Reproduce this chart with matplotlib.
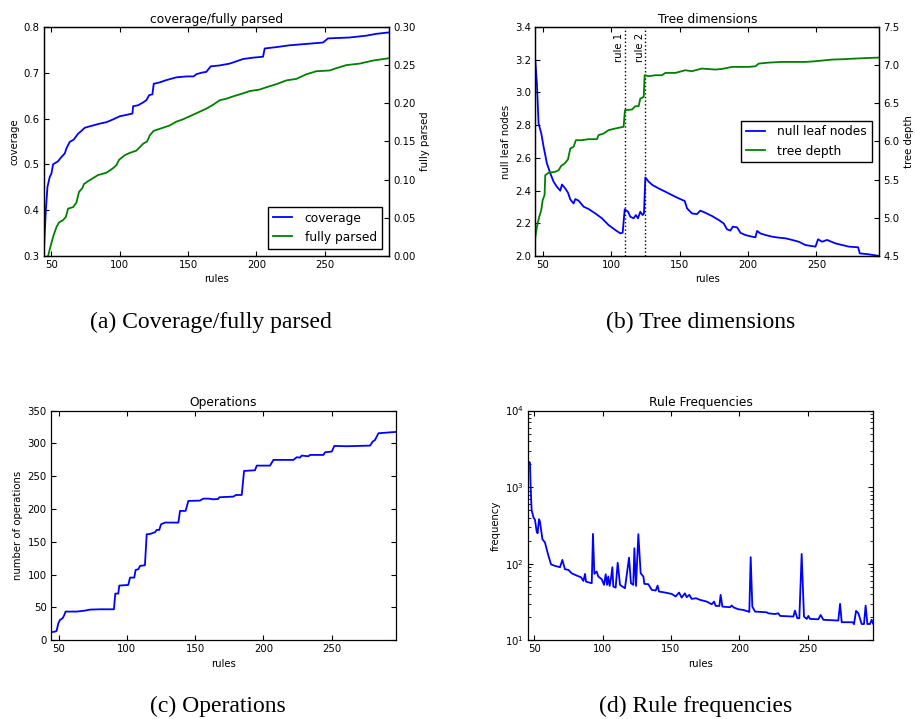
import numpy as np
import matplotlib
matplotlib.use("Agg")
import matplotlib.pyplot as plt
import matplotlib.transforms as mtransforms

# ---- data ----
# (a) coverage / fully parsed
cov_rules = [44.6, 45.9, 47.1, 48.8, 50, 51.2, 54.9, 57.3, 59.8, 61, 63.4, 66.3, 69.5, 71.9, 74.4,
             78, 85.4, 90.2, 95, 100, 104.9, 109.3, 109.8, 113.4, 117, 119.5, 121.5, 123.9, 124.9,
             129.3, 134.1, 141.5, 148.8, 154.1, 156.1, 159.8, 163.4, 166.6, 173.2, 180.5, 185.4,
             190.2, 197.6, 204.9, 206.1, 214.6, 224.4, 236.6, 248.8, 252.4, 268.3, 280.5, 287.8, 296.8]
coverage = [0.32, 0.40, 0.451, 0.473, 0.48, 0.50, 0.507, 0.516, 0.524, 0.535, 0.549, 0.554, 0.567,
            0.573, 0.58, 0.583, 0.589, 0.592, 0.598, 0.605, 0.608, 0.611, 0.627, 0.629, 0.635, 0.64,
            0.651, 0.653, 0.676, 0.679, 0.684, 0.69, 0.692, 0.692, 0.697, 0.70, 0.702, 0.714, 0.716,
            0.72, 0.725, 0.73, 0.733, 0.735, 0.753, 0.756, 0.76, 0.763, 0.766, 0.775, 0.777, 0.781,
            0.785, 0.788]

fp_rules = [44.6, 47.6, 48.8, 51.2, 53.7, 55.6, 58.5, 60.5, 62.2, 65.9, 68.3, 70.2, 72.7, 73.7, 76.8,
            80.5, 84.1, 90.2, 95.1, 97.6, 99.5, 103.7, 107.3, 112.2, 117.1, 120, 122, 124.9, 131.7,
            136.6, 141.5, 146.3, 151.2, 156.1, 159.8, 163.4, 168.3, 173.2, 178, 182.9, 190.2, 195.1,
            202.4, 207.3, 214.6, 222, 229.3, 236.6, 243.9, 253.7, 258.5, 265.9, 275.6, 285.4, 296.8]
fully_parsed = [-0.004, 0.0, 0.009, 0.025, 0.038, 0.044, 0.047, 0.051, 0.062, 0.064, 0.07, 0.084,
                0.089, 0.094, 0.098, 0.102, 0.106, 0.109, 0.115, 0.119, 0.126, 0.132, 0.135, 0.138,
                0.147, 0.15, 0.158, 0.164, 0.168, 0.171, 0.176, 0.179, 0.183, 0.187, 0.19, 0.193,
                0.198, 0.204, 0.206, 0.209, 0.213, 0.216, 0.218, 0.221, 0.225, 0.23, 0.232, 0.238,
                0.242, 0.243, 0.246, 0.25, 0.252, 0.256, 0.259]

# (b) tree dimensions
null_rules = [44.4, 45.6, 46.8, 48.8, 50.5, 52.9, 55.4, 57.8, 60.2, 62.7, 63.9, 66.3, 68.3, 70, 72.4,
              73.7, 76.1, 79.8, 83.4, 88.3, 93.2, 98, 102.9, 106.6, 108.3, 109.8, 112.2, 113.9,
              116.3, 118, 119.5, 121.2, 122.9, 123.9, 124.9, 127.3, 130.2, 134.6, 139.5, 144.4,
              149.3, 153.7, 155.4, 159, 162.7, 165.1, 168.8, 173.7, 178.5, 182.2, 184.6, 187.1,
              188.8, 192, 194.4, 198, 202.9, 205.4, 206.6, 209, 212.7, 217.6, 222.4, 227.3, 232.2,
              237.1, 241.9, 249.3, 251.2, 254.1, 257.8, 263.9, 268.8, 273.7, 280.5, 281.7, 288.3, 296.1]
null_leaf = [3.196, 3.054, 2.81, 2.749, 2.667, 2.566, 2.505, 2.454, 2.423, 2.399, 2.437, 2.413, 2.387,
             2.346, 2.321, 2.348, 2.338, 2.301, 2.287, 2.26, 2.23, 2.189, 2.159, 2.138, 2.142, 2.285,
             2.271, 2.24, 2.23, 2.25, 2.23, 2.27, 2.25, 2.26, 2.48, 2.454, 2.433, 2.413, 2.393, 2.372,
             2.352, 2.336, 2.291, 2.26, 2.256, 2.277, 2.264, 2.244, 2.22, 2.199, 2.163, 2.155, 2.179,
             2.175, 2.142, 2.128, 2.118, 2.114, 2.153, 2.138, 2.128, 2.118, 2.112, 2.108, 2.098,
             2.087, 2.067, 2.057, 2.102, 2.087, 2.098, 2.077, 2.067, 2.057, 2.053, 2.016, 2.01, 2.0]

depth_rules = [44.4, 45.6, 47.3, 48.8, 49.8, 51.2, 51.7, 54.1, 59, 61.5, 63.4, 65.9, 68.3, 70, 72.4,
               74.1, 78.5, 83.4, 89.5, 90.7, 94.4, 98, 102.9, 109, 110, 115.1, 117.6, 120, 121.2,
               123.7, 124.4, 127.3, 132.2, 137.1, 139.5, 146.8, 154.1, 159, 161.5, 166.3, 176.1,
               181, 188.3, 195.6, 200.5, 205.4, 207.8, 215.1, 224.9, 242, 249.3, 256.6, 261.5,
               268.8, 278.5, 288.3, 296.1]
tree_depth = [4.744, 4.883, 5.014, 5.101, 5.232, 5.298, 5.559, 5.59, 5.603, 5.625, 5.681, 5.712,
              5.764, 5.908, 5.93, 6.017, 6.017, 6.03, 6.03, 6.083, 6.104, 6.148, 6.17, 6.192, 6.41,
              6.418, 6.462, 6.462, 6.562, 6.584, 6.868, 6.855, 6.868, 6.868, 6.898, 6.898, 6.933,
              6.92, 6.933, 6.955, 6.942, 6.95, 6.977, 6.977, 6.977, 6.985, 7.02, 7.033, 7.042,
              7.042, 7.051, 7.064, 7.073, 7.077, 7.086, 7.094, 7.099]
rule_marks = [110, 125]
rule_names = ["rule 1", "rule 2"]

# (c) operations
ops_rules = [44.4, 47.3, 48.5, 49.8, 51, 52.9, 54.2, 55.1, 63.2, 69.3, 73, 80.3, 90.5, 91.5, 93.7,
             94.4, 101, 102.3, 105.4, 106.4, 108.4, 109.6, 113.2, 114.5, 117, 120.6, 121.8, 123.7,
             125, 127.9, 137.7, 138.9, 143, 145, 153.5, 156, 159.6, 163.3, 166.9, 167.7, 178,
             179.9, 184.1, 185.8, 193.8, 195.1, 204.8, 207.3, 221.9, 224.4, 226.8, 228, 232.9,
             234.1, 243.9, 245.1, 250, 251.9, 260.9, 278.1, 280, 281.7, 284.2, 296.9]
operations = [12.2, 13.2, 14.2, 25.9, 31, 33.5, 38.6, 43.7, 43.7, 45.2, 46.7, 47.2, 47.2, 71.1, 71.1,
              83.3, 84.3, 95.5, 95.5, 107.2, 108.2, 113.3, 114.3, 161.5, 162, 164.6, 168.1, 168.1,
              176.7, 179.3, 179.3, 197.1, 197.1, 212.3, 212.8, 215.8, 215.8, 214.8, 215.3, 217.9,
              218.9, 221.4, 221.4, 258, 259, 266.1, 266.1, 274.8, 274.8, 278.9, 278.3, 281.4, 280.3,
              282.4, 282.4, 286.4, 287.5, 296.1, 295.6, 296.6, 302.7, 305.2, 315.4, 317.4]

# (d) rule frequencies
freq_rules = [45.6, 46.8, 47.3, 48, 49.3, 50.5, 51.7, 52.4, 53.4, 54.1, 55.9, 57.8, 59.8, 62.2, 65.1,
              68.8, 70.5, 72.4, 74.9, 77.3, 81, 84.1, 85.9, 87.1, 87.8, 92, 92.9, 93.9, 95.6, 96.8,
              99.3, 101, 102.2, 103.2, 104.1, 105.1, 106.1, 107.1, 107.8, 109.5, 111, 112.7, 116.3,
              119.3, 120.7, 122.4, 123.2, 124.4, 126.1, 127.8, 129.8, 130.5, 133.4, 135.9, 138.8,
              140.2, 141.2, 145.6, 150.5, 153.4, 155.9, 157.8, 160.2, 161.5, 163.4, 165.1, 168.3,
              171.2, 176.1, 179.8, 181.5, 182.7, 185.4, 186.3, 187.6, 193.2, 194.4, 196.1, 199.3,
              202.9, 206.6, 207.3, 208.3, 209.5, 211.5, 220, 221.2, 226.1, 228.5, 229.8, 239.5,
              240.7, 242.4, 243.9, 245.6, 247.3, 249.3, 250.5, 251.7, 257.8, 259.5, 261.5, 272.4,
              273.7, 274.9, 283, 283.9, 285.4, 287.1, 289.5, 291.2, 292.4, 293.7, 295.6, 296.8, 298]
frequency = [2158, 2090, 1016, 505, 405, 373, 263, 250, 381, 355, 209, 189, 137, 98, 93.6, 90, 112,
             84.7, 83, 75, 70, 66.6, 59.6, 73.6, 58.4, 55.6, 245, 73.6, 79, 68, 62.7, 52.9, 72.8,
             52.9, 68, 51.3, 64.6, 90, 50.3, 48.7, 103, 52.9, 47.8, 120, 55.6, 52.9, 159, 51.3, 243,
             75, 68, 54.5, 54, 45.5, 44.6, 51.8, 43.3, 42, 40.3, 37.3, 42, 36.1, 41, 36.5, 39.2,
             34.7, 35.4, 33.7, 32, 29.5, 32, 28.1, 28.1, 39.2, 27.5, 27, 28.4, 26.7, 25.4, 24.9,
             23.7, 23.4, 121.7, 27.5, 23.7, 23.2, 22.5, 22, 22.5, 20.8, 20.4, 24.4, 19.4, 19.4, 134,
             20.4, 19, 20.8, 19, 18.8, 21.4, 18.5, 18.1, 29.9, 17.2, 17.2, 16.2, 24.2, 22.5, 16.3,
             16.3, 28.4, 16.3, 16.3, 18.5, 16.3]

captions = ["(a) Coverage/fully parsed", "(b) Tree dimensions", "(c) Operations", "(d) Rule frequencies"]

# ---- style (old matplotlib look) ----
plt.rcParams["font.family"] = "DejaVu Sans"
plt.rcParams["font.size"] = 7.3
plt.rcParams["xtick.direction"] = "in"
plt.rcParams["ytick.direction"] = "in"
plt.rcParams["xtick.top"] = True
plt.rcParams["ytick.right"] = True
plt.rcParams["xtick.major.size"] = 3.5
plt.rcParams["ytick.major.size"] = 3.5
plt.rcParams["xtick.minor.size"] = 2
plt.rcParams["ytick.minor.size"] = 2
plt.rcParams["xtick.major.pad"] = 3
plt.rcParams["ytick.major.pad"] = 3
plt.rcParams["axes.linewidth"] = 0.9
plt.rcParams["axes.titlesize"] = 8.8
plt.rcParams["axes.titlepad"] = 3
plt.rcParams["axes.labelpad"] = 3
plt.rcParams["legend.fontsize"] = 8.8
plt.rcParams["legend.fancybox"] = False
plt.rcParams["legend.edgecolor"] = "black"
plt.rcParams["legend.framealpha"] = 1
plt.rcParams["mathtext.default"] = "regular"

BLUE = "#0000ff"
GREEN = "#008000"
LW = 1.3

fig = plt.figure(figsize=(9.15, 7.19), dpi=100)

# (a)
ax1 = fig.add_axes([0.048, 0.644, 0.377, 0.3185])
l1, = ax1.plot(cov_rules, coverage, color=BLUE, lw=LW, label="coverage")
ax1.set_xlim(44.5, 297)
ax1.set_ylim(0.3, 0.8)
ax1.set_xticks([50, 100, 150, 200, 250])
ax1.set_xlabel("rules")
ax1.set_ylabel("coverage")
ax1.set_title("coverage/fully parsed")
ax1b = ax1.twinx()
l2, = ax1b.plot(fp_rules, fully_parsed, color=GREEN, lw=LW, label="fully parsed")
ax1b.set_ylim(0.0, 0.30)
ax1b.set_ylabel("fully parsed")
ax1b.legend([l1, l2], ["coverage", "fully parsed"], loc="lower right",
            handlelength=1.6, handletextpad=1.0, borderaxespad=0.6)

# (b)
ax2 = fig.add_axes([0.585, 0.644, 0.376, 0.3185])
m1, = ax2.plot(null_rules, null_leaf, color=BLUE, lw=LW)
ax2.set_xlim(44.4, 296)
ax2.set_ylim(2.0, 3.4)
ax2.set_xticks([50, 100, 150, 200, 250])
ax2.set_xlabel("rules")
ax2.set_ylabel("null leaf nodes")
ax2.set_title("Tree dimensions")
trans = mtransforms.blended_transform_factory(ax2.transData, ax2.transAxes)
for pos, name in zip(rule_marks, rule_names):
    ax2.axvline(pos, color="black", ls=":", lw=1.0)
    ax2.text(pos - 0.6, 0.975, name, transform=trans, rotation=90,
             ha="right", va="top", fontsize=7.3)
ax2b = ax2.twinx()
m2, = ax2b.plot(depth_rules, tree_depth, color=GREEN, lw=LW)
ax2b.set_ylim(4.5, 7.5)
ax2b.set_ylabel("tree depth")
ax2b.legend([m1, m2], ["null leaf nodes", "tree depth"], loc="center right",
            handlelength=1.6, handletextpad=1.0, borderaxespad=0.6)

# (c)
ax3 = fig.add_axes([0.0557, 0.1095, 0.377, 0.3195])
ax3.plot(ops_rules, operations, color=BLUE, lw=LW)
ax3.set_xlim(44.4, 297)
ax3.set_ylim(0, 350)
ax3.set_xticks([50, 100, 150, 200, 250])
ax3.set_xlabel("rules")
ax3.set_ylabel("number of operations")
ax3.set_title("Operations")

# (d)
ax4 = fig.add_axes([0.5774, 0.1095, 0.377, 0.3195])
ax4.plot(freq_rules, frequency, color=BLUE, lw=LW)
ax4.set_yscale("log")
ax4.set_xlim(45.6, 298)
ax4.set_ylim(10, 1e4)
ax4.set_xticks([50, 100, 150, 200, 250])
ax4.set_xlabel("rules")
ax4.set_ylabel("frequency")
ax4.set_title("Rule Frequencies")

# captions
cap_pos = [(0.2306, 0.552), (0.766, 0.552), (0.238, 0.018), (0.7607, 0.018)]
for (cx, cy), txt in zip(cap_pos, captions):
    fig.text(cx, cy, txt, ha="center", va="center", family="Liberation Serif", fontsize=17)

fig.savefig("out.png", dpi=100, facecolor="white")
